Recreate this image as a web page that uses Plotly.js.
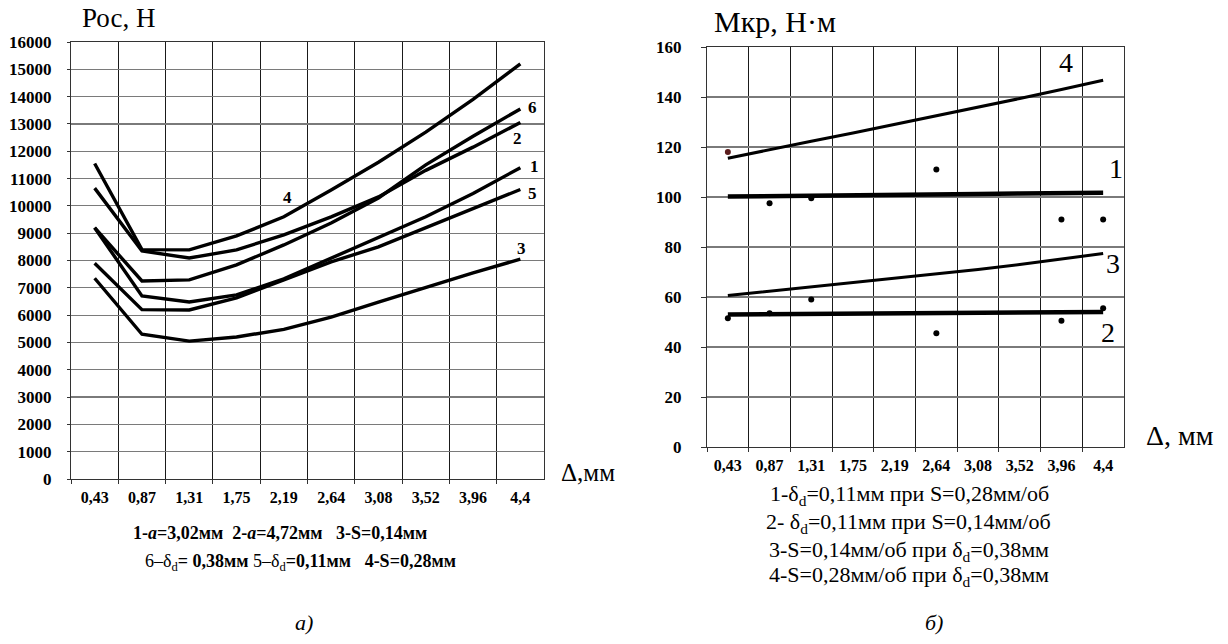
<!DOCTYPE html>
<html>
<head>
<meta charset="utf-8">
<script src="https://cdn.plot.ly/plotly-3.0.1.min.js"></script>
<style>
html,body{margin:0;padding:0;background:#fff;}
#chart{width:1228px;height:644px;}
</style>
</head>
<body>
<div id="chart"></div>
<script>
// ---- data ----
const cats = ['0,43','0,87','1,31','1,75','2,19','2,64','3,08','3,52','3,96','4,4'];

// left chart: Рос, Н
const pos1 = [9200, 6700, 6480, 6740, 7330, 8080, 8850, 9600, 10450, 11400];
const pos2 = [10650, 8350, 8090, 8390, 8940, 9600, 10330, 11300, 12150, 13050];
const pos3 = [7350, 5300, 5050, 5200, 5480, 5930, 6480, 7030, 7550, 8050];
const pos4 = [11550, 8400, 8390, 8900, 9600, 10580, 11600, 12700, 13900, 15200];
const pos5 = [7900, 6200, 6190, 6630, 7290, 7950, 8500, 9200, 9900, 10600];
const pos6 = [9200, 7250, 7290, 7840, 8570, 9370, 10290, 11500, 12550, 13550];

// right chart: Мкр, Н·м
const mkr1 = [100.2, 100.3, 100.4, 100.6, 100.8, 101.0, 101.2, 101.4, 101.5, 101.7];
const mkr2 = [53.0, 53.1, 53.2, 53.3, 53.4, 53.5, 53.6, 53.7, 53.9, 54.0];
const mkr3 = [60.6, 62.3, 64.0, 65.7, 67.4, 69.2, 71.0, 73.0, 75.1, 77.4];
const mkr4 = [115.5, 119.0, 122.3, 125.6, 129.0, 132.4, 135.8, 139.4, 143.0, 146.7];
const dotCats = ['0,43','0,87','1,31','2,64','3,96','4,4'];
const dotsUpper = [118, 97.5, 99.5, 111, 91, 91];
const dotsLower = [51.5, 53.5, 59, 45.5, 50.5, 55.5];

const leftTicks = [0,1000,2000,3000,4000,5000,6000,7000,8000,9000,10000,11000,12000,13000,14000,15000,16000];
const rightTicks = [0,20,40,60,80,100,120,140,160];

// ---- layout helpers ----
const W = 1228, H = 644;
const px = x => x / W;
const py = y => 1 - y / H;
const SERIF = 'Liberation Serif';

function line(y, xa, ya, w) {
  return {x: cats, y: y, xaxis: xa, yaxis: ya, type: 'scatter', mode: 'lines',
          line: {color: '#000', width: w, shape: 'linear'}, hoverinfo: 'skip', showlegend: false};
}

const traces = [
  line(pos3, 'x', 'y', 3.4), line(pos5, 'x', 'y', 3.4), line(pos1, 'x', 'y', 3.4),
  line(pos6, 'x', 'y', 3.4), line(pos2, 'x', 'y', 3.4), line(pos4, 'x', 'y', 3.4),
  line(mkr4, 'x2', 'y2', 3), line(mkr3, 'x2', 'y2', 3),
  line(mkr1, 'x2', 'y2', 4.5), line(mkr2, 'x2', 'y2', 4.5),
  {x: dotCats, y: dotsUpper, xaxis: 'x2', yaxis: 'y2', type: 'scatter', mode: 'markers',
   marker: {color: ['#5a1c1c','#000','#000','#000','#000','#000'], size: 6}, showlegend: false, hoverinfo: 'skip'},
  {x: dotCats, y: dotsLower, xaxis: 'x2', yaxis: 'y2', type: 'scatter', mode: 'markers',
   marker: {color: '#000', size: 6}, showlegend: false, hoverinfo: 'skip'}
];

function xAxis(domain, size, len, standoff) {
  return {domain: domain, type: 'category', categoryorder: 'array', categoryarray: cats,
          range: [-0.5, cats.length - 0.5], autorange: false,
          tickson: 'boundaries', ticks: 'outside', ticklen: len, tickcolor: '#333',
          ticklabelstandoff: standoff,
          showgrid: true, gridcolor: '#1a1a1a', gridwidth: 1,
          showline: true, mirror: true, linecolor: '#333', linewidth: 1,
          tickfont: {family: SERIF, size: size, color: '#000', weight: 'bold'},
          fixedrange: true, zeroline: false};
}
function yAxis(domain, range, vals, size, len, standoff) {
  return {domain: domain, range: range, tickmode: 'array', tickvals: vals, ticktext: vals.map(String),
          ticks: 'outside', ticklen: len, tickcolor: '#333', ticklabelstandoff: standoff,
          showgrid: true, gridcolor: '#7a7a7a', gridwidth: 1.2,
          showline: true, mirror: true, linecolor: '#333', linewidth: 1, zeroline: false,
          tickfont: {family: SERIF, size: size, color: '#000', weight: 'bold'}, fixedrange: true};
}

function ann(text, x, y, size, anchor) {
  return {text: text, x: px(x), y: py(y), xref: 'paper', yref: 'paper',
    xanchor: anchor || 'center', yanchor: 'middle', showarrow: false,
    font: {family: SERIF, size: size, color: '#000'}};
}

const annotations = [
  ann('Рос, Н', 119, 18, 27),
  ann('Мкр, Н·м', 775, 21, 30),
  ann('Δ,мм', 588, 472, 25),
  ann('Δ, мм', 1180, 435, 28),
  // left curve labels
  ann('<b>4</b>', 287, 198, 17), ann('<b>6</b>', 532, 107, 17), ann('<b>2</b>', 517, 138, 17),
  ann('<b>1</b>', 534, 166, 17), ann('<b>5</b>', 532, 193, 17), ann('<b>3</b>', 521, 248, 17),
  // right curve labels
  ann('4', 1066, 62, 28), ann('1', 1116, 168, 28), ann('3', 1113, 263, 28), ann('2', 1108, 333, 28),
  // left legend
  ann('<b>1-<i>a</i>=3,02мм&nbsp;&nbsp;2-<i>a</i>=4,72мм&nbsp;&nbsp;&nbsp;3-S=0,14мм</b>', 280, 533, 18),
  ann('6–δ<sub>d</sub><b>=&nbsp;0,38мм</b> 5–δ<sub>d</sub><b>=0,11мм&nbsp;&nbsp;&nbsp;4-S=0,28мм</b>', 300, 562, 18),
  // right legend
  ann('1-δ<sub>d</sub>=0,11мм при S=0,28мм/об', 1051, 495, 22, 'right'),
  ann('2- δ<sub>d</sub>=0,11мм при S=0,14мм/об', 1053, 523, 22, 'right'),
  ann('3-S=0,14мм/об при δ<sub>d</sub>=0,38мм', 1051, 551, 22, 'right'),
  ann('4-S=0,28мм/об при δ<sub>d</sub>=0,38мм', 1051, 576, 22, 'right'),
  // panel letters
  ann('<i>а)</i>', 304, 622, 22),
  ann('<i>б)</i>', 934, 622, 22)
];

const layout = {
  width: W, height: H, margin: {l: 0, r: 0, t: 0, b: 0},
  paper_bgcolor: '#fff', plot_bgcolor: '#fff', showlegend: false,
  font: {family: SERIF, color: '#000'},
  xaxis: Object.assign(xAxis([px(71), px(544)], 16, 4, 4), {anchor: 'y'}),
  yaxis: Object.assign(yAxis([py(479), py(42)], [0, 16000], leftTicks, 17, 3, 12), {anchor: 'x'}),
  xaxis2: Object.assign(xAxis([px(707), px(1124)], 16, 4, 4), {anchor: 'y2'}),
  yaxis2: Object.assign(yAxis([py(447), py(47)], [0, 160], rightTicks, 17, 5, 16), {anchor: 'x2'}),
  annotations: annotations
};

Plotly.newPlot('chart', traces, layout, {staticPlot: true, displayModeBar: false});
</script>
</body>
</html>
